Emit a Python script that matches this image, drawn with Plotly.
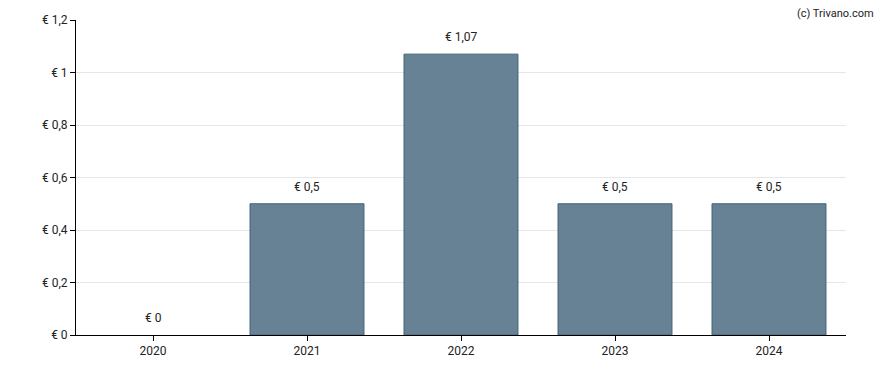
import plotly.graph_objects as go

years = ["2020", "2021", "2022", "2023", "2024"]
values = [0, 0.5, 1.07, 0.5, 0.5]
value_labels = ["€ 0", "€ 0,5", "€ 1,07", "€ 0,5", "€ 0,5"]
y_ticks = [0, 0.2, 0.4, 0.6, 0.8, 1.0, 1.2]
y_tick_labels = ["€ 0", "€ 0,2", "€ 0,4", "€ 0,6", "€ 0,8", "€ 1", "€ 1,2"]

fig = go.Figure(go.Bar(
    x=years, y=values,
    marker=dict(color="rgb(103,130,148)",
                line=dict(color="rgb(68,98,120)", width=[0 if v == 0 else 1 for v in values])),
    width=0.74,
))
annots = [dict(x=i, y=v, text=t, showarrow=False, yanchor="bottom", yshift=8,
               font=dict(size=12, color="#222"))
          for i, (v, t) in enumerate(zip(values, value_labels))]
annots.append(dict(text="(c) Trivano.com", xref="paper", yref="paper", x=1.039, y=1.0,
                   xanchor="right", yanchor="bottom", showarrow=False,
                   font=dict(size=11, color="#222"), yshift=-2))
fig.update_layout(
    width=888, height=370,
    margin=dict(l=76, r=42, t=20, b=35, autoexpand=False),
    plot_bgcolor="white", paper_bgcolor="white",
    font=dict(family="Roboto", size=12, color="#222"),
    showlegend=False,
    annotations=annots,
)
fig.update_xaxes(type="category", showline=True, linecolor="black", linewidth=1,
                 ticks="outside", ticklen=5, tickcolor="black", showgrid=False)
fig.update_yaxes(range=[0, 1.2], tickvals=y_ticks, ticktext=y_tick_labels,
                 showline=True, linecolor="black", linewidth=1,
                 ticks="outside", ticklen=5, tickcolor="black",
                 gridcolor="#e6e6e6", zeroline=False)
fig.write_html("out.html", config={"displayModeBar": False},
               post_script="document.body.style.margin='0';")
